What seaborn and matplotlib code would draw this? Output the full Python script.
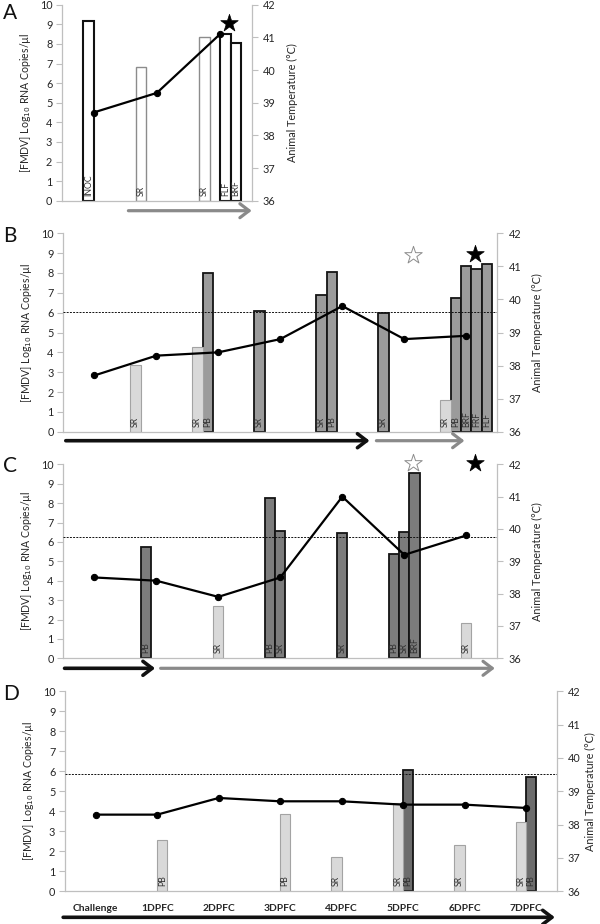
import numpy as np
import pandas as pd
import matplotlib
matplotlib.use("Agg")
import matplotlib.pyplot as plt
from matplotlib.transforms import blended_transform_factory, offset_copy
import seaborn as sns

# ------------------------------------------------------------------ data
# Panel A
A_days = ["d0", "d1", "d2"]
A_day_labels = ["", "", ""]
A_temp = [38.7, 39.3, 41.1]
A_slots = ["SR", "INOC", "FLF", "BRF"]
A_bar_day = ["d0", "d1", "d2", "d2", "d2"]
A_bar_sample = ["INOC", "SR", "SR", "FLF", "BRF"]
A_bar_value = [9.18, 6.84, 8.35, 8.49, 8.06]
A_bar_kind = ["W", "w", "w", "W", "W"]
A_star_day = [2]
A_star_value = [9.05]
A_star_type = ["filled"]
A_phase_start = [0.55]
A_phase_end = [2.5]
A_phase_color = ["gray"]
A_threshold = None

# Panel B
B_days = ["d0", "d1", "d2", "d3", "d4", "d5", "d6"]
B_day_labels = [""] * 7
B_temp = [37.7, 38.3, 38.4, 38.8, 39.8, 38.8, 38.9]
B_slots = ["SR", "PB", "BRF", "FRF", "FLF"]
B_bar_day = ["d1", "d2", "d2", "d3", "d4", "d4", "d5", "d6", "d6", "d6", "d6", "d6"]
B_bar_sample = ["SR", "SR", "PB", "SR", "SR", "PB", "SR", "SR", "PB", "BRF", "FRF", "FLF"]
B_bar_value = [3.38, 4.25, 8.0, 6.1, 6.88, 8.05, 6.0, 1.6, 6.72, 8.35, 8.18, 8.47]
B_bar_kind = ["L", "L", "D", "D", "D", "D", "D", "L", "D", "D", "D", "D"]
B_star_day = [5, 6]
B_star_value = [8.9, 8.95]
B_star_type = ["open", "filled"]
B_phase_start = [-0.46, 4.55]
B_phase_end = [4.44, 5.97]
B_phase_color = ["black", "gray"]
B_threshold = 6.02

# Panel C
C_days = ["d0", "d1", "d2", "d3", "d4", "d5", "d6"]
C_day_labels = [""] * 7
C_temp = [38.5, 38.4, 37.9, 38.5, 41.0, 39.2, 39.8]
C_slots = ["PB", "SR", "BRF"]
C_bar_day = ["d1", "d2", "d3", "d3", "d4", "d5", "d5", "d5", "d6"]
C_bar_sample = ["PB", "SR", "PB", "SR", "SR", "PB", "SR", "BRF", "SR"]
C_bar_value = [5.76, 2.7, 8.28, 6.55, 6.44, 5.37, 6.51, 9.54, 1.8]
C_bar_kind = ["D", "L", "D", "D", "D", "D", "D", "D", "L"]
C_star_day = [5, 6]
C_star_value = [10.05, 10.05]
C_star_type = ["open", "filled"]
C_phase_start = [-0.48, 1.07]
C_phase_end = [0.98, 6.46]
C_phase_color = ["black", "gray"]
C_threshold = 6.24

# Panel D
D_days = ["Challenge", "1DPFC", "2DPFC", "3DPFC", "4DPFC", "5DPFC", "6DPFC", "7DPFC"]
D_day_labels = D_days
D_temp = [38.3, 38.3, 38.8, 38.7, 38.7, 38.6, 38.6, 38.5]
D_slots = ["SR", "PB"]
D_bar_day = ["1DPFC", "3DPFC", "4DPFC", "5DPFC", "5DPFC", "6DPFC", "7DPFC", "7DPFC"]
D_bar_sample = ["PB", "PB", "SR", "SR", "PB", "SR", "SR", "PB"]
D_bar_value = [2.58, 3.88, 1.73, 4.43, 6.08, 2.33, 3.48, 5.7]
D_bar_kind = ["L", "L", "L", "L", "D", "L", "L", "D"]
D_star_day = []
D_star_value = []
D_star_type = []
D_phase_start = [-0.53]
D_phase_end = [7.47]
D_phase_color = ["black"]
D_threshold = 5.85

# ------------------------------------------------------------------ style
sns.set_style("white")
plt.rcParams["font.family"] = ["Lato", "DejaVu Sans"]

W_PX, H_PX = 600, 924
fig = plt.figure(figsize=(W_PX / 100, H_PX / 100), dpi=100)

SPINE = "#bfbfbf"
TXT = "#262626"
LIGHT_FILL = "#d9d9d9"
LIGHT_EDGE = "#a3a3a3"
ARROW_COLORS = {"black": "#111111", "gray": "#8a8a8a"}
STAR_SHIFT = 0.14
SLOT_FRAC = 1 / 6


def rect(l, r, t, b):
    return [l / W_PX, (H_PX - b) / H_PX, (r - l) / W_PX, (b - t) / H_PX]


def draw_panel(box, days, day_labels, slots, bar_day, bar_sample, bar_value, bar_kind,
               temps, dark, threshold, star_day, star_value, star_type,
               ph_start, ph_end, ph_color, arrow_px, letter, letter_y, rpad=8):
    ax = fig.add_axes(box)
    n = len(days)
    df = pd.DataFrame({"day": bar_day, "sample": bar_sample,
                       "value": bar_value, "kind": bar_kind})
    styles = {
        "L": (LIGHT_FILL, LIGHT_EDGE, 0.8),
        "D": (dark, "#141414", 1.3),
        "W": ("white", "#111111", 1.5),
        "w": ("white", "#8c8c8c", 1.0),
    }
    for kind, sub in df.groupby("kind"):
        fill, edge, lw = styles[kind]
        sns.barplot(data=sub, x="day", y="value", hue="sample", order=days,
                    hue_order=slots, palette={s: fill for s in slots},
                    width=len(slots) * SLOT_FRAC, dodge=True, saturation=1,
                    edgecolor=edge, linewidth=lw, errorbar=None, legend=False, ax=ax)

    # sample labels inside each bar
    for p in list(ax.patches):
        xc = p.get_x() + p.get_width() / 2
        idx = int(round((xc - round(xc)) / SLOT_FRAC + (len(slots) - 1) / 2))
        ax.annotate(slots[idx], (xc, 0), xytext=(0, 3.5), textcoords="offset points",
                    rotation=90, ha="center", va="bottom", fontsize=6.3, color="#303030",
                    zorder=6)

    if threshold is not None:
        ax.axhline(threshold, color="#111111", lw=0.7, ls=(0, (2.0, 1.3)), zorder=4)

    # stars
    if len(star_day):
        sdf = pd.DataFrame({"x": np.array(star_day) + STAR_SHIFT, "y": star_value,
                            "t": star_type})
        for t, sub in sdf.groupby("t"):
            if t == "filled":
                sns.scatterplot(data=sub, x="x", y="y", marker="*", s=175, color="black",
                                edgecolor="black", linewidth=0.5, ax=ax, clip_on=False,
                                zorder=7, legend=False)
            else:
                sns.scatterplot(data=sub, x="x", y="y", marker="*", s=175, color="white",
                                edgecolor="#8c8c8c", linewidth=0.7, ax=ax, clip_on=False,
                                zorder=7, legend=False)

    ax.set_xlim(-0.5, n - 0.5)
    ax.set_ylim(0, 10)
    ax.set_yticks(range(0, 11))
    ax.set_xticks(np.arange(n + 1) - 0.5)
    ax.set_xticklabels([])
    ax.set_xlabel("")
    ax.set_ylabel("[FMDV] Log$_{10}$ RNA Copies/µl", fontsize=7.6, color=TXT, labelpad=5)
    ax.tick_params(axis="y", length=4, width=0.8, color=SPINE, labelcolor=TXT,
                   labelsize=7.8, pad=3)
    ax.tick_params(axis="x", which="major", length=3, width=0.8, color=SPINE)
    if any(day_labels):
        ax.set_xticks(np.arange(n), minor=True)
        ax.set_xticklabels(day_labels, minor=True, fontsize=7.4, fontweight="bold",
                           color=TXT)
        ax.tick_params(axis="x", which="minor", length=0, pad=9)
    for s in ["top", "right"]:
        ax.spines[s].set_visible(False)
    for s in ["left", "bottom"]:
        ax.spines[s].set_color(SPINE)
        ax.spines[s].set_linewidth(0.9)

    # temperature line on the secondary axis
    ax2 = ax.twinx()
    sns.lineplot(x=np.arange(n), y=temps, ax=ax2, color="black", lw=1.6, marker="o",
                 markersize=4.5, markeredgecolor="black", zorder=5)
    ax2.set_ylim(36, 42)
    ax2.set_yticks(range(36, 43))
    ax2.set_xlim(-0.5, n - 0.5)
    ax2.set_ylabel("Animal Temperature (°C)", fontsize=7.8, color=TXT, labelpad=rpad)
    ax2.tick_params(axis="y", length=4, width=0.8, color=SPINE, labelcolor=TXT,
                    labelsize=7.8, pad=4)
    for s in ["top", "left", "bottom"]:
        ax2.spines[s].set_visible(False)
    ax2.spines["right"].set_color(SPINE)
    ax2.spines["right"].set_linewidth(0.9)

    # timeline arrows beneath the axis
    tr = offset_copy(blended_transform_factory(ax.transData, ax.transAxes),
                     fig=fig, y=-arrow_px, units="dots")
    for s0, s1, c in zip(ph_start, ph_end, ph_color):
        ax.annotate("", xy=(s1, 0), xytext=(s0, 0), xycoords=tr, textcoords=tr,
                    annotation_clip=False,
                    arrowprops=dict(arrowstyle="->,head_length=0.55,head_width=0.42",
                                    lw=2.6 if c == "black" else 2.3,
                                    color=ARROW_COLORS[c], shrinkA=0, shrinkB=0,
                                    mutation_scale=12))

    fig.text(3 / W_PX, 1 - letter_y / H_PX, letter, fontsize=15, color="#111111",
             va="center", ha="left")
    return ax, ax2


draw_panel(rect(62, 251.7, 4.7, 200.7), A_days, A_day_labels, A_slots, A_bar_day,
           A_bar_sample, A_bar_value, A_bar_kind, A_temp, "#999999", A_threshold,
           A_star_day, A_star_value, A_star_type, A_phase_start, A_phase_end,
           A_phase_color, 10, "A", 13)

draw_panel(rect(63.3, 497.3, 233.3, 431.7), B_days, B_day_labels, B_slots, B_bar_day,
           B_bar_sample, B_bar_value, B_bar_kind, B_temp, "#9b9b9b", B_threshold,
           B_star_day, B_star_value, B_star_type, B_phase_start, B_phase_end,
           B_phase_color, 9, "B", 236)

draw_panel(rect(63.3, 497.3, 464.3, 658.3), C_days, C_day_labels, C_slots, C_bar_day,
           C_bar_sample, C_bar_value, C_bar_kind, C_temp, "#7c7c7c", C_threshold,
           C_star_day, C_star_value, C_star_type, C_phase_start, C_phase_end,
           C_phase_color, 10, "C", 466)

draw_panel(rect(65, 556.7, 691.3, 891.3), D_days, D_day_labels, D_slots, D_bar_day,
           D_bar_sample, D_bar_value, D_bar_kind, D_temp, "#6c6c6c", D_threshold,
           D_star_day, D_star_value, D_star_type, D_phase_start, D_phase_end,
           D_phase_color, 26, "D", 694, rpad=3)

fig.savefig("out.png", dpi=100, facecolor="white")
